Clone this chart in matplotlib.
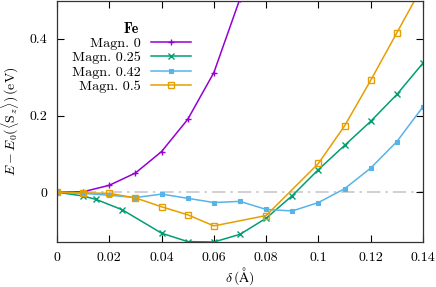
import matplotlib
matplotlib.use("Agg")
import matplotlib.pyplot as plt
from matplotlib.ticker import FuncFormatter, MultipleLocator
from matplotlib.font_manager import FontProperties

plt.rcParams['font.family'] = 'cmr10'
plt.rcParams['mathtext.fontset'] = 'cm'
plt.rcParams['axes.unicode_minus'] = False
plt.rcParams['axes.formatter.use_mathtext'] = True

# Fe: energy vs displacement for several magnetisations
delta_m0 = [0.0, 0.01, 0.02, 0.03, 0.04, 0.05, 0.06, 0.07, 0.08]
e_m0 = [0.0, 0.001, 0.018, 0.050, 0.106, 0.190, 0.312, 0.505, 0.75]

delta_m025 = [0.0, 0.01, 0.015, 0.025, 0.04, 0.05, 0.06, 0.07, 0.08, 0.09, 0.1, 0.11, 0.12, 0.13, 0.14]
e_m025 = [0.0, -0.010, -0.019, -0.046, -0.107, -0.129, -0.130, -0.110, -0.068, -0.009, 0.059, 0.122, 0.185, 0.255, 0.337]

delta_m042 = [0.0, 0.01, 0.02, 0.03, 0.04, 0.05, 0.06, 0.07, 0.08, 0.09, 0.1, 0.11, 0.12, 0.13, 0.14]
e_m042 = [0.0, -0.003, -0.008, -0.014, -0.005, -0.016, -0.027, -0.024, -0.045, -0.049, -0.027, 0.009, 0.063, 0.132, 0.223]

delta_m05 = [0.0, 0.01, 0.02, 0.03, 0.04, 0.05, 0.06, 0.08, 0.1, 0.11, 0.12, 0.13, 0.14]
e_m05 = [0.0, -0.002, -0.003, -0.015, -0.038, -0.059, -0.088, -0.061, 0.075, 0.173, 0.292, 0.416, 0.54]

fig = plt.figure(figsize=(4.36, 2.87), dpi=100)
ax = fig.add_axes([0.1307, 0.1568, 0.8395, 0.8412])

ax.axhline(0, color='#c8c8c8', lw=1.2, dashes=(8, 3, 1.5, 3), zorder=1)

lw = 1.1
ax.plot(delta_m0, e_m0, color='#9400d3', lw=lw, marker='+', ms=5, mew=1.0, label='Magn. 0')
ax.plot(delta_m025, e_m025, color='#009e73', lw=lw, marker='x', ms=4, mew=1.0, label='Magn. 0.25')
ax.plot(delta_m042, e_m042, color='#56b4e9', lw=lw, marker='s', ms=3.5, mew=0.8, label='Magn. 0.42')
ax.plot(delta_m05, e_m05, color='#e69f00', lw=lw, marker='s', ms=5, mew=1.0, mfc='none', label='Magn. 0.5')

ax.set_xlim(0, 0.14)
ax.set_ylim(-0.13, 0.5)
ax.xaxis.set_major_locator(MultipleLocator(0.02))
ax.yaxis.set_major_locator(MultipleLocator(0.2))
fmt = FuncFormatter(lambda v, p: '%g' % round(v, 6))
ax.xaxis.set_major_formatter(fmt)
ax.yaxis.set_major_formatter(fmt)
ax.tick_params(direction='in', length=5, width=0.8, top=True, right=True, labelsize=10, pad=7)
for s in ax.spines.values():
    s.set_linewidth(0.9)
    s.set_color('#333333')

ax.set_xlabel(r'$\delta\,(\mathrm{\AA})$', fontsize=10, labelpad=1)
ax.set_ylabel(r'$E - E_0(\langle \mathrm{S}_z\rangle)\,(\mathrm{eV})$', fontsize=10, labelpad=6)

leg = ax.legend(loc='upper right', bbox_to_anchor=(0.40, 0.965), frameon=False,
                markerfirst=False, handlelength=2.8, labelspacing=0.1,
                handletextpad=0.7, fontsize=10.2, title='Fe',
                title_fontproperties=FontProperties(family='cmb10', size=10.2))
for col in leg._legend_handle_box.get_children():
    col.align = 'right'

fig.savefig('out.png', dpi=100)
